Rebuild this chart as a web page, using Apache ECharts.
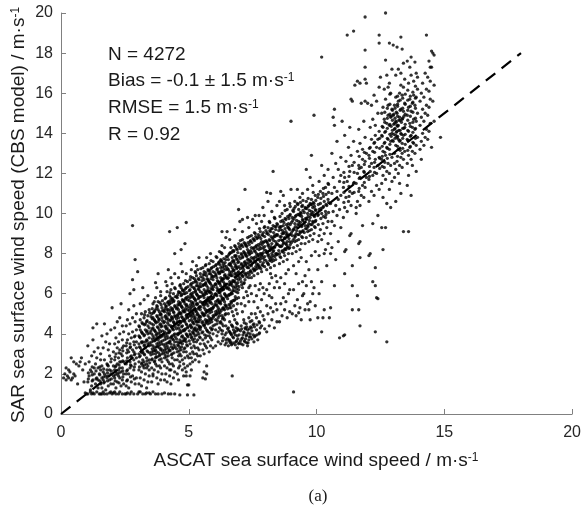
<!DOCTYPE html>
<html>
<head>
<meta charset="utf-8">
<script src="https://cdn.jsdelivr.net/npm/echarts@6/dist/echarts.min.js"></script>
<style>
  html, body { margin: 0; padding: 0; background: #fff; }
  #chart { width: 584px; height: 512px; }
</style>
</head>
<body>
<div id="chart"></div>
<script>
// [ASCAT, SAR] wind speed pairs (m/s), estimated from the figure, grouped by ASCAT range
const ptsFloor = [[1.05,1.0],[1.15,1.1],[1.2,1.0],[1.3,1.0],[1.4,1.1],[1.5,1.0],[1.55,1.0],[1.65,1.1],[1.7,1.0],[1.8,1.0],[1.9,1.05],[2.0,1.0],[2.1,1.1],[2.15,1.0],[2.25,1.0],[2.3,1.1],[2.4,1.0],[2.5,1.0],[2.6,1.05],[2.7,1.0],[2.75,1.1],[2.85,1.0],[3.0,1.0],[3.1,1.1],[3.2,1.0],[3.3,1.0],[3.35,1.05],[3.5,1.0],[3.6,1.1],[3.7,1.0],[3.8,1.0],[3.95,1.0],[4.05,1.05],[4.2,1.0],[4.3,1.0],[4.65,0.95],[4.95,0.95],[5.2,0.95],[1.25,1.05],[1.6,1.0],[1.95,1.1],[2.55,1.0],[3.45,1.05],[3.05,1.1],[2.05,1.05],[4.45,1.0],[0.95,1.05],[1.0,1.0]];

const ptsLow = [[0.1,1.8],[0.15,2.0],[0.2,1.7],[0.25,1.9],[0.3,1.8],[0.35,2.1],[0.4,1.7],[0.45,1.8],[0.5,2.0],[0.3,2.2],[0.2,2.3],[0.55,1.9],[0.6,2.5],[0.7,2.4],[0.75,2.6],[0.5,2.6],[0.85,2.2],[0.9,1.6],[0.65,1.5],[0.8,2.8],[0.95,2.5],[0.4,2.8],
[1.05,1.6],[1.1,1.9],[1.15,2.2],[1.2,1.4],[1.25,1.7],[1.3,2.0],[1.35,2.5],[1.4,1.8],[1.45,1.3],[1.1,2.6],[1.2,2.9],[1.3,3.1],[1.45,2.3],[1.05,3.4],[1.25,3.7],[1.4,2.8],[1.35,1.5],[1.15,1.2],[1.5,2.0],[1.25,4.3],[1.4,4.5],[1.45,3.3],[1.3,2.3],[1.2,2.1],[1.45,1.7],
[1.55,1.5],[1.6,1.8],[1.65,2.1],[1.7,1.6],[1.75,1.9],[1.8,2.2],[1.85,1.4],[1.9,1.7],[1.95,2.0],[1.6,2.4],[1.7,2.7],[1.8,2.5],[1.9,2.9],[1.55,3.0],[1.65,3.3],[1.75,3.6],[1.85,3.2],[1.95,2.6],[1.6,1.3],[1.7,2.0],[1.8,1.8],[1.9,2.2],[1.55,2.2],[1.85,1.9],[1.65,1.7],[1.75,1.2],[1.95,1.5],[1.9,3.5],[1.8,4.0],[1.6,3.9],[1.7,4.5],[2.0,5.3],[1.95,4.2],[1.55,2.7],[1.85,2.4],
[2.05,1.5],[2.1,1.8],[2.15,2.1],[2.2,1.6],[2.25,1.9],[2.3,2.3],[2.35,1.4],[2.4,1.7],[2.45,2.0],[2.05,2.4],[2.1,2.7],[2.15,3.0],[2.2,2.5],[2.25,2.8],[2.3,3.2],[2.35,2.6],[2.4,2.9],[2.45,3.4],[2.05,3.1],[2.1,3.5],[2.15,3.8],[2.2,3.3],[2.25,3.6],[2.3,4.0],[2.35,3.0],[2.4,3.7],[2.45,4.1],[2.1,4.3],[2.2,4.6],[2.3,4.8],[2.35,5.5],[2.4,4.4],[2.05,1.9],[2.2,2.0],[2.3,1.8],[2.4,2.3],[2.45,1.5],[2.15,1.3],[2.25,2.2],[2.35,2.1],[2.1,2.2],[2.3,2.6],[2.4,3.3],[2.15,2.4],[2.45,2.6],
[2.55,1.4],[2.6,1.7],[2.65,2.0],[2.7,2.3],[2.75,1.6],[2.8,1.9],[2.85,2.2],[2.9,1.5],[2.95,1.8],[2.55,2.5],[2.6,2.8],[2.65,3.1],[2.7,2.6],[2.75,2.9],[2.8,3.2],[2.85,2.7],[2.9,3.0],[2.95,3.3],[2.55,3.4],[2.6,3.7],[2.65,4.0],[2.7,3.5],[2.75,3.8],[2.8,4.1],[2.85,3.6],[2.9,3.9],[2.95,4.2],[2.55,4.4],[2.6,4.7],[2.7,4.5],[2.8,4.8],[2.9,4.6],[2.95,5.0],[2.65,5.2],[2.85,5.4],[2.7,6.0],[2.85,6.2],[2.8,6.7],[2.9,7.7],[2.8,9.4],[2.6,2.2],[2.75,2.4],[2.9,2.5],[2.55,2.0],[2.65,1.3],[2.95,2.8],[2.7,3.3],[2.85,3.1],[2.6,3.2],[2.95,3.6]];

const ptsMid = [[3.05,1.5],[3.1,1.8],[3.15,2.1],[3.2,2.4],[3.25,1.7],[3.3,2.0],[3.35,2.3],[3.4,1.6],[3.45,1.9],[3.05,2.6],[3.1,2.9],[3.15,3.2],[3.2,2.7],[3.25,3.0],[3.3,3.3],[3.35,2.8],[3.4,3.1],[3.45,3.4],[3.05,3.5],[3.1,3.8],[3.15,4.1],[3.2,3.6],[3.25,3.9],[3.3,4.2],[3.35,3.7],[3.4,4.0],[3.45,4.3],[3.05,4.4],[3.1,4.7],[3.15,5.0],[3.2,4.5],[3.25,4.8],[3.3,5.1],[3.35,4.6],[3.4,4.9],[3.45,5.2],[3.1,5.5],[3.25,5.7],[3.4,5.9],[3.0,7.1],[3.2,6.3],[3.05,2.2],[3.15,2.5],[3.25,2.3],[3.35,2.5],[3.45,2.2],[3.1,3.3],[3.2,3.1],[3.3,3.6],[3.4,3.5],[3.05,3.9],[3.15,3.6],[3.25,3.4],[3.35,4.1],[3.45,3.8],[3.1,4.2],[3.2,4.0],[3.3,4.5],[3.4,4.4],[3.15,1.4],[3.35,1.3],[3.45,2.7],[3.05,3.0],[3.25,2.6],[3.4,2.4],
[3.55,1.6],[3.6,1.9],[3.65,2.2],[3.7,2.5],[3.75,1.8],[3.8,2.1],[3.85,2.4],[3.9,1.7],[3.95,2.0],[3.55,2.7],[3.6,3.0],[3.65,3.3],[3.7,2.8],[3.75,3.1],[3.8,3.4],[3.85,2.9],[3.9,3.2],[3.95,3.5],[3.55,3.6],[3.6,3.9],[3.65,4.2],[3.7,3.7],[3.75,4.0],[3.8,4.3],[3.85,3.8],[3.9,4.1],[3.95,4.4],[3.55,4.5],[3.6,4.8],[3.65,5.1],[3.7,4.6],[3.75,4.9],[3.8,5.2],[3.85,4.7],[3.9,5.0],[3.95,5.3],[3.6,5.5],[3.7,5.8],[3.8,5.6],[3.9,5.9],[3.75,6.3],[3.7,6.55],[3.8,7.0],[3.55,2.3],[3.65,2.6],[3.75,2.4],[3.85,2.7],[3.95,2.6],[3.6,3.4],[3.7,3.2],[3.8,3.7],[3.9,3.6],[3.55,4.0],[3.65,3.8],[3.75,3.5],[3.85,4.2],[3.95,3.9],[3.6,4.3],[3.7,4.1],[3.8,4.6],[3.9,4.5],[3.55,5.0],[3.65,4.7],[3.75,5.4],[3.85,5.1],[3.95,4.8],[3.6,2.0],[3.8,1.5],[3.9,2.3],[3.55,3.1],[3.7,3.0],[3.85,3.3],[3.95,3.0],[3.65,5.6],[3.9,6.1],
[4.05,1.7],[4.1,2.0],[4.15,2.3],[4.2,2.6],[4.25,1.9],[4.3,2.2],[4.35,2.5],[4.4,1.8],[4.45,2.1],[4.05,2.8],[4.1,3.1],[4.15,3.4],[4.2,2.9],[4.25,3.2],[4.3,3.5],[4.35,3.0],[4.4,3.3],[4.45,3.6],[4.05,3.7],[4.1,4.0],[4.15,4.3],[4.2,3.8],[4.25,4.1],[4.3,4.4],[4.35,3.9],[4.4,4.2],[4.45,4.5],[4.05,4.6],[4.1,4.9],[4.15,5.2],[4.2,4.7],[4.25,5.0],[4.3,5.3],[4.35,4.8],[4.4,5.1],[4.45,5.4],[4.05,5.5],[4.1,5.8],[4.15,6.1],[4.2,5.6],[4.25,5.9],[4.3,6.2],[4.35,5.7],[4.4,6.0],[4.45,6.3],[4.1,6.6],[4.3,6.8],[4.2,7.2],[4.45,7.0],[4.25,9.1],[4.45,8.0],[4.05,2.4],[4.15,2.7],[4.25,2.5],[4.35,2.8],[4.45,2.7],[4.1,3.5],[4.2,3.3],[4.3,3.8],[4.4,3.7],[4.05,4.1],[4.15,3.9],[4.25,3.6],[4.35,4.3],[4.45,4.0],[4.1,4.4],[4.2,4.2],[4.3,4.7],[4.4,4.6],[4.05,5.1],[4.15,4.8],[4.25,5.5],[4.35,5.2],[4.45,4.9],[4.1,5.4],[4.2,5.2],[4.3,5.8],[4.4,5.6],[4.15,6.4],[4.35,6.5],[4.05,3.2],[4.25,2.2],[4.4,2.4],[4.3,1.5],[4.15,1.6],
[4.55,2.0],[4.6,2.3],[4.65,2.6],[4.7,2.9],[4.75,2.2],[4.8,2.5],[4.85,2.8],[4.9,2.1],[4.95,2.4],[4.55,3.1],[4.6,3.4],[4.65,3.7],[4.7,3.2],[4.75,3.5],[4.8,3.8],[4.85,3.3],[4.9,3.6],[4.95,3.9],[4.55,4.0],[4.6,4.3],[4.65,4.6],[4.7,4.1],[4.75,4.4],[4.8,4.7],[4.85,4.2],[4.9,4.5],[4.95,4.8],[4.55,4.9],[4.6,5.2],[4.65,5.5],[4.7,5.0],[4.75,5.3],[4.8,5.6],[4.85,5.1],[4.9,5.4],[4.95,5.7],[4.55,5.8],[4.6,6.1],[4.65,6.4],[4.7,5.9],[4.75,6.2],[4.8,6.5],[4.85,6.0],[4.9,6.3],[4.95,6.6],[4.6,6.8],[4.75,7.1],[4.9,7.0],[4.7,7.5],[4.55,9.3],[4.9,9.55],[4.85,8.5],[4.7,8.2],[4.55,3.6],[4.65,3.3],[4.75,3.9],[4.85,3.7],[4.95,3.4],[4.6,4.0],[4.7,4.6],[4.8,4.2],[4.9,4.0],[4.55,4.6],[4.65,4.2],[4.75,4.8],[4.85,4.6],[4.95,4.3],[4.6,4.8],[4.7,5.4],[4.8,5.1],[4.9,4.9],[4.55,5.3],[4.65,5.0],[4.75,5.7],[4.85,5.5],[4.95,5.2],[4.6,5.6],[4.7,6.3],[4.8,6.0],[4.9,5.8],[4.55,2.7],[4.65,2.4],[4.75,2.7],[4.85,2.3],[4.95,2.9],[4.6,1.7],[4.8,1.9],[4.9,1.9],[4.95,1.45],[5.0,2.8],[4.65,3.0],[4.8,3.1],[4.9,3.1],[4.7,3.6],[4.6,2.9]];

const ptsCore = [[5.05,2.5],[5.1,2.8],[5.15,3.1],[5.2,3.4],[5.25,2.7],[5.3,3.0],[5.35,3.3],[5.4,2.6],[5.45,2.9],[5.05,3.5],[5.1,3.8],[5.15,4.1],[5.2,3.6],[5.25,3.9],[5.3,4.2],[5.35,3.7],[5.4,4.0],[5.45,4.3],[5.05,4.4],[5.1,4.7],[5.15,5.0],[5.2,4.5],[5.25,4.8],[5.3,5.1],[5.35,4.6],[5.4,4.9],[5.45,5.2],[5.05,5.3],[5.1,5.6],[5.15,5.9],[5.2,5.4],[5.25,5.7],[5.3,6.0],[5.35,5.5],[5.4,5.8],[5.45,6.1],[5.05,6.2],[5.1,6.5],[5.15,6.8],[5.2,6.3],[5.25,6.6],[5.3,6.9],[5.35,6.4],[5.4,6.7],[5.45,7.0],[5.15,7.6],[5.3,7.4],[5.4,7.8],[5.05,4.0],[5.15,3.7],[5.25,4.3],[5.35,4.1],[5.45,3.8],[5.1,4.3],[5.2,4.0],[5.3,4.6],[5.4,4.4],[5.05,4.9],[5.15,4.6],[5.25,5.2],[5.35,5.0],[5.45,4.7],[5.1,5.2],[5.2,4.9],[5.3,5.5],[5.4,5.3],[5.05,5.8],[5.15,5.5],[5.25,6.1],[5.35,5.9],[5.45,5.6],[5.1,6.0],[5.2,5.8],[5.3,6.4],[5.4,6.2],[5.05,3.0],[5.15,2.6],[5.25,3.3],[5.35,2.9],[5.45,3.5],[5.1,3.3],[5.3,3.6],[5.2,3.0],[5.4,3.2],[5.05,6.7],[5.25,7.1],[5.45,6.5],[5.1,7.2],[5.0,1.45],[5.1,2.2],[5.05,1.9],[5.35,7.2],[5.45,4.2],[5.2,4.2],[5.4,4.6],
[5.55,1.8],[5.6,2.1],[5.7,2.4],[5.65,1.75],[5.7,2.0],[5.55,3.2],[5.6,3.5],[5.65,3.8],[5.7,3.3],[5.75,3.6],[5.8,3.9],[5.85,3.4],[5.9,3.7],[5.95,4.0],[5.55,4.1],[5.6,4.4],[5.65,4.7],[5.7,4.2],[5.75,4.5],[5.8,4.8],[5.85,4.3],[5.9,4.6],[5.95,4.9],[5.55,5.0],[5.6,5.3],[5.65,5.6],[5.7,5.1],[5.75,5.4],[5.8,5.7],[5.85,5.2],[5.9,5.5],[5.95,5.8],[5.55,5.9],[5.6,6.2],[5.65,6.5],[5.7,6.0],[5.75,6.3],[5.8,6.6],[5.85,6.1],[5.9,6.4],[5.95,6.7],[5.55,6.8],[5.6,7.1],[5.65,7.4],[5.7,6.9],[5.75,7.2],[5.8,7.5],[5.85,7.0],[5.9,7.3],[5.95,7.6],[5.7,7.8],[5.85,8.0],[5.6,3.0],[5.8,3.1],[5.95,3.3],[5.55,4.6],[5.65,4.3],[5.75,4.9],[5.85,4.7],[5.95,4.4],[5.6,4.9],[5.7,4.6],[5.8,5.2],[5.9,5.1],[5.55,5.5],[5.65,5.2],[5.75,5.8],[5.85,5.6],[5.95,5.3],[5.6,5.8],[5.7,5.5],[5.8,6.1],[5.9,6.0],[5.55,6.4],[5.65,6.1],[5.75,6.7],[5.85,6.5],[5.95,6.2],[5.6,6.7],[5.7,6.4],[5.8,7.0],[5.9,6.9],[5.55,3.7],[5.7,3.9],[5.9,4.2],[5.65,3.4],[5.75,4.1],[5.85,3.8],[5.55,7.3],[5.95,7.1],
[6.05,3.4],[6.15,3.6],[6.25,3.5],[6.35,3.8],[6.45,3.7],[6.1,3.9],[6.3,4.0],[6.05,4.2],[6.1,4.5],[6.15,4.8],[6.2,4.3],[6.25,4.6],[6.3,4.9],[6.35,4.4],[6.4,4.7],[6.45,5.0],[6.05,5.1],[6.1,5.4],[6.15,5.7],[6.2,5.2],[6.25,5.5],[6.3,5.8],[6.35,5.3],[6.4,5.6],[6.45,5.9],[6.05,6.0],[6.1,6.3],[6.15,6.6],[6.2,6.1],[6.25,6.4],[6.3,6.7],[6.35,6.2],[6.4,6.5],[6.45,6.8],[6.05,6.9],[6.1,7.2],[6.15,7.5],[6.2,7.0],[6.25,7.3],[6.3,7.6],[6.35,7.1],[6.4,7.4],[6.45,7.7],[6.1,7.8],[6.2,8.1],[6.3,8.0],[6.4,8.3],[6.45,8.8],[6.3,9.1],[6.5,9.1],[6.05,5.6],[6.15,5.3],[6.25,5.9],[6.35,5.7],[6.45,5.4],[6.1,5.9],[6.2,5.6],[6.3,6.2],[6.4,6.0],[6.05,6.5],[6.15,6.2],[6.25,6.8],[6.35,6.6],[6.45,6.3],[6.1,6.8],[6.2,6.5],[6.3,7.1],[6.4,6.9],[6.05,7.4],[6.15,7.1],[6.25,7.7],[6.35,7.5],[6.45,7.2],[6.05,4.7],[6.2,4.9],[6.3,4.5],[6.4,5.2],[6.15,4.1],[6.45,4.4],[6.25,4.2],[6.1,5.0],[6.35,4.8],[6.2,7.6],[6.3,8.4],
[6.55,3.4],[6.6,3.7],[6.65,4.0],[6.7,3.5],[6.75,3.8],[6.8,4.1],[6.85,3.6],[6.9,3.9],[6.95,4.2],[6.55,4.3],[6.6,4.6],[6.7,4.4],[6.8,4.7],[6.9,4.5],[6.95,3.5],[6.65,3.6],[6.85,4.3],[6.75,4.2],[6.6,4.1],[6.9,3.3],
[6.55,5.0],[6.6,5.3],[6.65,5.6],[6.7,5.1],[6.75,5.4],[6.8,5.7],[6.85,5.2],[6.9,5.5],[6.95,5.8],[6.55,5.9],[6.6,6.2],[6.65,6.5],[6.7,6.0],[6.75,6.3],[6.8,6.6],[6.85,6.1],[6.9,6.4],[6.95,6.7],[6.55,6.8],[6.6,7.1],[6.65,7.4],[6.7,6.9],[6.75,7.2],[6.8,7.5],[6.85,7.0],[6.9,7.3],[6.95,7.6],[6.55,7.7],[6.6,8.0],[6.65,8.3],[6.7,7.8],[6.75,8.1],[6.8,8.4],[6.85,7.9],[6.9,8.2],[6.95,8.5],[6.6,8.7],[6.8,9.2],[6.95,10.2],[6.55,6.3],[6.65,6.0],[6.75,6.6],[6.85,6.5],[6.95,6.2],[6.6,6.6],[6.7,6.4],[6.8,7.0],[6.9,6.9],[6.55,7.2],[6.65,6.9],[6.75,7.6],[6.85,7.4],[6.95,7.1],[6.6,7.5],[6.7,7.3],[6.8,7.9],[6.9,7.7],[6.7,1.9],[6.65,5.3],[6.9,5.0],[6.75,4.9]];

const ptsUpper = [[7.05,3.5],[7.1,3.8],[7.15,4.1],[7.2,3.6],[7.25,3.9],[7.3,4.2],[7.35,3.7],[7.4,4.0],[7.45,4.3],[7.05,4.4],[7.15,4.7],[7.25,4.5],[7.35,4.8],[7.45,5.0],[7.1,5.1],[7.3,3.4],[7.2,4.3],[7.4,4.6],
[7.05,5.5],[7.15,5.8],[7.25,6.1],[7.35,5.6],[7.45,6.0],[7.1,6.3],[7.3,5.9],[7.2,5.4],[7.4,6.4],
[7.05,6.6],[7.1,6.9],[7.15,7.2],[7.2,6.7],[7.25,7.0],[7.3,7.3],[7.35,6.8],[7.4,7.1],[7.45,7.4],[7.05,7.5],[7.1,7.8],[7.15,8.1],[7.2,7.6],[7.25,7.9],[7.3,8.2],[7.35,7.7],[7.4,8.0],[7.45,8.3],[7.05,8.4],[7.1,8.7],[7.2,8.5],[7.3,8.8],[7.4,8.6],[7.45,8.9],[7.15,7.4],[7.25,7.5],[7.35,7.3],[7.45,7.8],[7.1,7.3],[7.2,8.0],[7.3,7.7],[7.4,7.6],[7.05,8.0],[7.25,8.4],[7.35,8.1],[7.1,9.1],[7.0,9.6],[7.1,9.7],[7.35,9.3],[7.2,11.2],[7.15,6.5],[7.35,6.3],[7.45,6.8],[7.3,9.8],[7.5,9.7],
[7.55,3.6],[7.6,3.9],[7.65,4.2],[7.7,3.7],[7.75,4.0],[7.8,4.3],[7.55,4.5],[7.65,4.8],[7.75,4.6],[7.85,4.4],[7.95,4.7],[7.6,5.0],[7.8,5.1],[7.9,4.9],[7.7,5.3],
[7.55,5.6],[7.65,5.9],[7.75,6.2],[7.85,5.7],[7.95,6.0],[7.6,6.4],[7.8,6.5],[7.9,6.3],
[7.55,6.9],[7.6,7.2],[7.65,7.5],[7.7,7.0],[7.75,7.3],[7.8,7.6],[7.85,7.1],[7.9,7.4],[7.95,7.7],[7.55,7.8],[7.6,8.1],[7.65,8.4],[7.7,7.9],[7.75,8.2],[7.8,8.5],[7.85,8.0],[7.9,8.3],[7.95,8.6],[7.55,8.7],[7.6,9.0],[7.7,8.8],[7.8,9.1],[7.9,8.9],[7.95,9.3],[7.6,7.6],[7.7,7.4],[7.8,8.0],[7.9,7.8],[7.55,8.3],[7.65,8.0],[7.75,7.7],[7.85,8.6],[7.95,8.2],[7.6,9.9],[7.75,9.9],[7.95,9.9],[7.65,9.5],[7.85,9.6],[8.05,11.05],[7.9,10.3],[7.55,7.2],[7.85,7.9],
[8.05,4.1],[8.15,4.4],[8.25,4.7],[8.35,4.3],[8.45,4.6],[8.1,5.0],[8.2,5.3],[8.3,5.1],[8.4,5.5],[8.05,5.4],[8.25,5.8],[8.45,5.2],[8.15,5.9],
[8.05,6.2],[8.15,6.5],[8.25,6.8],[8.35,6.3],[8.45,6.6],[8.2,7.0],[8.4,6.9],
[8.05,7.2],[8.1,7.5],[8.15,7.8],[8.2,7.3],[8.25,7.6],[8.3,7.9],[8.35,7.4],[8.4,7.7],[8.45,8.0],[8.05,8.1],[8.1,8.4],[8.15,8.7],[8.2,8.2],[8.25,8.5],[8.3,8.8],[8.35,8.3],[8.4,8.6],[8.45,8.9],[8.05,9.0],[8.1,9.3],[8.2,9.1],[8.3,9.4],[8.4,9.2],[8.45,9.5],[8.1,7.9],[8.2,7.7],[8.3,8.1],[8.4,8.0],[8.05,8.6],[8.15,8.3],[8.25,8.0],[8.35,8.9],[8.45,8.5],[8.15,9.6],[8.35,9.8],[8.25,10.1],[8.3,12.1],[8.1,10.6],[8.45,10.4],[8.2,11.0],
[8.55,4.6],[8.65,4.9],[8.75,5.2],[8.85,4.8],[8.95,5.1],[8.6,5.5],[8.7,5.8],[8.8,5.6],[8.9,6.0],[8.55,6.3],[8.75,6.5],[8.95,6.2],
[8.6,6.8],[8.8,7.0],[8.9,7.2],
[8.55,7.5],[8.6,7.8],[8.65,8.1],[8.7,7.6],[8.75,7.9],[8.8,8.2],[8.85,7.7],[8.9,8.0],[8.95,8.3],[8.55,8.4],[8.6,8.7],[8.65,9.0],[8.7,8.5],[8.75,8.8],[8.8,9.1],[8.85,8.6],[8.9,8.9],[8.95,9.2],[8.55,9.3],[8.6,9.6],[8.7,9.4],[8.8,9.7],[8.9,9.5],[8.95,9.9],[8.65,8.4],[8.75,8.2],[8.85,9.0],[8.95,8.6],[8.6,9.2],[8.7,9.0],[8.8,8.5],[8.9,9.3],[8.65,10.0],[8.85,10.2],[8.55,10.6],[8.7,10.9],[8.6,11.1],[8.95,10.5],[9.0,11.2],[8.75,10.4],[8.55,8.0],[8.85,8.3],
[9.05,5.0],[9.15,5.4],[9.25,5.7],[9.35,5.3],[9.45,5.9],[9.1,6.2],[9.3,6.5],[9.45,6.6],[9.4,4.7],[9.2,4.9],[9.5,6.0],[9.3,5.05],
[9.05,8.0],[9.1,8.3],[9.15,8.6],[9.2,8.1],[9.25,8.4],[9.3,8.7],[9.35,8.2],[9.4,8.5],[9.45,8.8],[9.05,8.9],[9.1,9.2],[9.15,9.5],[9.2,9.0],[9.25,9.3],[9.3,9.6],[9.35,9.1],[9.4,9.4],[9.45,9.7],[9.05,9.8],[9.1,10.1],[9.2,9.9],[9.3,10.2],[9.4,10.0],[9.45,10.4],[9.15,10.6],[9.35,10.8],[9.25,11.2],[9.45,11.0],[9.1,7.4],[9.3,7.6],[9.2,7.0],[9.4,7.8],[9.1,1.1],[9.0,14.6],[9.15,8.9],[9.35,9.9],[9.45,9.1],[9.25,10.5],
[9.55,5.2],[9.65,5.5],[9.75,5.6],[9.85,6.0],[9.7,5.2],[9.8,6.6],[9.6,6.4],[9.9,6.3],[9.75,4.7],[9.95,5.4],
[9.55,8.5],[9.6,8.8],[9.65,9.1],[9.7,8.6],[9.75,8.9],[9.8,9.2],[9.85,8.7],[9.9,9.0],[9.95,9.3],[9.55,9.4],[9.6,9.7],[9.65,10.0],[9.7,9.5],[9.75,9.8],[9.8,10.1],[9.85,9.6],[9.9,9.9],[9.95,10.2],[9.55,10.3],[9.6,10.6],[9.7,10.4],[9.8,10.7],[9.9,10.5],[9.95,10.9],[9.65,11.2],[9.85,11.4],[9.75,11.8],[9.6,12.2],[9.8,12.9],[9.9,14.9],[9.6,7.6],[9.8,7.9],[9.7,7.2],[9.95,8.1],[9.55,6.9],[9.65,9.4],[9.85,10.3],[9.95,9.6],[9.75,10.5]];

const ptsHigh = [[10.05,4.8],[10.2,4.1],[10.25,4.8],[10.1,6.0],[10.3,5.2],[10.2,6.6],[10.4,7.4],
[10.05,8.6],[10.1,8.9],[10.15,9.2],[10.2,8.7],[10.25,9.5],[10.3,9.0],[10.35,9.8],[10.4,9.3],[10.45,9.6],[10.05,9.9],[10.1,10.2],[10.15,10.5],[10.2,10.0],[10.25,10.3],[10.3,10.6],[10.35,10.1],[10.4,10.4],[10.45,10.7],[10.05,10.8],[10.15,11.1],[10.25,11.0],[10.35,11.3],[10.45,11.5],[10.1,11.6],[10.3,11.9],[10.2,12.4],[10.45,12.2],[10.2,17.8],[10.1,7.9],[10.35,8.2],[10.45,8.5],[10.05,7.2],[10.3,8.0],
[10.5,4.8],[10.9,3.8],[10.7,6.4],[10.55,5.3],
[10.55,9.0],[10.6,9.6],[10.65,10.1],[10.7,9.4],[10.75,10.4],[10.8,9.9],[10.85,10.7],[10.9,10.2],[10.95,10.9],[10.55,10.5],[10.6,11.0],[10.7,11.3],[10.8,11.1],[10.9,11.6],[10.95,11.9],[10.65,11.8],[10.85,12.2],[10.75,12.5],[10.95,12.8],[10.6,13.0],[10.8,13.6],[10.7,14.4],[10.65,14.8],[10.7,15.2],[11.0,14.6],[10.6,8.3],[10.85,8.6],[10.75,7.7],[10.95,9.3],[10.55,8.0],
[11.05,3.9],[11.1,3.95],[11.4,5.2],[11.4,6.4],[11.1,7.0],[11.4,7.4],[11.1,8.1],[11.15,8.2],[11.3,8.9],[11.35,9.0],
[11.05,9.8],[11.1,10.3],[11.15,10.8],[11.2,10.1],[11.25,10.6],[11.3,11.1],[11.35,10.4],[11.4,11.0],[11.45,11.5],[11.05,11.3],[11.1,11.8],[11.2,11.6],[11.3,12.1],[11.4,12.4],[11.15,12.6],[11.35,12.9],[11.25,13.3],[11.45,13.6],[11.1,13.9],[11.3,14.3],[11.4,15.6],[11.2,18.9],[11.45,19.1],[11.5,16.4],[11.35,15.7],
[11.6,5.9],[11.7,4.4],[11.65,5.2],[11.7,7.8],[11.7,8.6],[11.65,8.5],[11.8,9.4],
[11.55,10.0],[11.6,10.6],[11.65,11.1],[11.7,10.4],[11.75,10.9],[11.8,11.4],[11.85,10.8],[11.9,11.3],[11.95,11.8],[11.55,11.5],[11.6,12.0],[11.65,12.4],[11.7,11.8],[11.75,12.3],[11.8,12.7],[11.85,12.1],[11.9,12.6],[11.95,13.0],[11.6,13.1],[11.7,13.5],[11.8,13.2],[11.9,13.8],[11.65,14.2],[11.85,14.6],[11.75,15.5],[11.9,15.6],[11.6,16.6],[11.7,16.5],[11.9,16.7],[11.95,16.5],[11.9,17.3],[11.9,18.15],[11.9,19.8],[11.55,10.3],
[12.1,8.0],[12.05,7.9],[12.3,7.3],[12.2,6.6],[12.3,6.4],[12.35,5.8],[12.4,5.75],[12.3,4.1],
[12.05,10.6],[12.15,11.1],[12.25,10.9],[12.35,11.4],[12.45,11.2],[12.05,11.7],[12.1,12.1],[12.15,12.5],[12.2,11.9],[12.25,12.3],[12.3,12.7],[12.35,12.0],[12.4,12.4],[12.45,12.8],[12.05,12.9],[12.1,13.3],[12.15,13.7],[12.2,13.1],[12.25,13.5],[12.3,13.9],[12.35,13.3],[12.4,13.7],[12.45,14.1],[12.1,14.3],[12.2,14.7],[12.3,14.4],[12.4,15.0],[12.15,15.4],[12.35,15.6],[12.25,15.9],[12.45,16.3],[12.5,16.8],[12.45,18.9],[12.45,18.5],[12.4,9.9],[12.2,9.5],[12.0,15.5],
[12.55,9.3],[12.7,9.3],[12.75,3.6],[12.6,8.2],[12.9,10.3],
[12.55,11.5],[12.6,11.9],[12.65,12.3],[12.7,11.7],[12.75,12.1],[12.8,12.5],[12.85,12.0],[12.9,12.4],[12.95,12.8],[12.55,12.7],[12.6,13.1],[12.65,13.5],[12.7,12.9],[12.75,13.3],[12.8,13.7],[12.85,13.2],[12.9,13.6],[12.95,14.0],[12.55,13.9],[12.6,14.3],[12.65,14.7],[12.7,14.1],[12.75,14.5],[12.8,14.9],[12.85,14.4],[12.9,14.8],[12.95,15.2],[12.6,15.3],[12.7,15.7],[12.8,15.4],[12.9,16.0],[12.65,16.2],[12.85,16.5],[12.75,16.9],[12.95,17.2],[12.7,17.65],[12.7,20.0],[12.85,18.5],[12.6,10.8],[12.85,11.2],[12.75,10.5],[12.55,15.0],[12.95,11.6],[12.8,16.3],
[13.4,9.1],[13.1,10.6],[13.3,11.0],
[13.05,11.8],[13.1,12.2],[13.15,12.6],[13.2,12.0],[13.25,12.4],[13.3,12.8],[13.35,12.3],[13.4,12.7],[13.45,13.1],[13.05,13.0],[13.1,13.4],[13.15,13.8],[13.2,13.2],[13.25,13.6],[13.3,14.0],[13.35,13.5],[13.4,13.9],[13.45,14.3],[13.05,14.2],[13.1,14.6],[13.15,15.0],[13.2,14.4],[13.25,14.8],[13.3,15.2],[13.35,14.7],[13.4,15.1],[13.45,15.5],[13.05,15.4],[13.1,15.8],[13.15,14.1],[13.2,15.6],[13.25,16.0],[13.3,16.4],[13.35,15.9],[13.4,16.3],[13.45,16.7],[13.1,16.9],[13.2,17.2],[13.3,17.0],[13.4,17.5],[13.0,18.4],[13.15,18.3],[13.35,18.2],[13.3,18.8],[13.05,14.5],[13.1,13.9],[13.15,14.4],[13.0,13.6],[13.0,14.9],[13.2,13.7],[13.05,12.5],[13.35,13.0],[13.25,11.5],
[13.6,9.1],[13.7,10.9],[13.55,11.4],
[13.55,12.5],[13.6,12.9],[13.65,13.3],[13.7,12.7],[13.75,13.1],[13.8,13.5],[13.85,13.0],[13.9,13.4],[13.95,13.8],[13.55,13.7],[13.6,14.1],[13.65,14.5],[13.7,13.9],[13.75,14.3],[13.8,14.7],[13.85,14.2],[13.9,14.6],[13.95,15.0],[13.55,14.9],[13.6,15.3],[13.65,15.7],[13.7,15.1],[13.75,15.5],[13.8,15.9],[13.85,15.4],[13.9,15.8],[13.95,16.2],[13.6,16.5],[13.7,16.9],[13.8,16.6],[13.9,17.0],[13.65,17.3],[13.85,17.55],[13.7,17.8],[13.55,17.6],[13.95,16.8],[13.75,12.4],[13.9,12.1],[13.6,11.9],
[14.05,13.2],[14.1,13.6],[14.15,14.0],[14.2,13.4],[14.25,13.8],[14.3,14.2],[14.35,13.7],[14.4,14.1],[14.45,14.5],[14.05,14.4],[14.1,14.8],[14.15,15.2],[14.2,14.6],[14.25,15.0],[14.3,15.4],[14.35,14.9],[14.4,15.3],[14.45,15.7],[14.05,15.6],[14.1,16.0],[14.2,15.8],[14.3,16.2],[14.4,16.1],[14.45,16.6],[14.15,16.5],[14.35,16.8],[14.25,17.0],[14.4,17.6],[14.45,17.3],[14.5,17.3],[14.55,18.0],[14.6,17.9],[14.5,18.1],[14.3,18.9],[14.5,13.3],[14.85,13.8],[14.6,14.6],[14.55,15.6],[14.6,16.4],[14.1,12.7]];

// densest parts of the cloud: [ASCAT, [SAR values...]]
const denseColumns = [
  [3.52,[2.95,3.45,4.15,4.85]],[3.62,[3.15,3.65,4.45,5.05]],[3.72,[2.85,3.35,3.95,4.55,5.25]],[3.82,[3.05,3.55,4.05,4.75]],
  [3.92,[2.75,3.25,3.85,4.35,4.95,5.45]],[4.02,[3.05,3.45,3.95,4.55,5.15]],[4.12,[2.85,3.25,3.75,4.25,4.75,5.35]],
  [4.22,[3.15,3.55,4.05,4.45,4.95,5.45]],[4.32,[2.95,3.35,3.85,4.35,4.85,5.55]],[4.42,[3.05,3.45,3.95,4.55,5.05,5.65]],
  [4.52,[3.25,3.75,4.25,4.75,5.25,5.85]],[4.62,[3.15,3.55,4.05,4.45,5.05,5.45,6.05]],[4.72,[3.35,3.85,4.35,4.85,5.35,5.95]],
  [4.82,[3.25,3.65,4.15,4.65,5.15,5.65,6.15]],[4.92,[3.45,3.95,4.45,4.95,5.45,6.05]],
  [5.02,[3.65,4.15,4.65,5.15,5.65,6.15]],[5.12,[3.85,4.35,4.85,5.35,5.85,6.35]],[5.22,[3.75,4.25,4.75,5.25,5.75,6.25,6.75]],
  [5.32,[3.95,4.45,4.95,5.45,5.95,6.55]],[5.42,[3.85,4.35,4.85,5.35,5.85,6.35]],[5.52,[4.05,4.55,5.05,5.55,6.05,6.65]],
  [5.62,[3.95,4.45,4.95,5.45,5.95,6.45,6.95]],[5.72,[4.15,4.65,5.15,5.65,6.15,6.75]],[5.82,[4.05,4.55,5.05,5.55,6.05,6.55,7.15]],
  [5.92,[4.25,4.75,5.25,5.75,6.25,6.85]],[6.02,[4.45,4.95,5.45,5.95,6.45,7.05]],[6.12,[4.65,5.15,5.65,6.15,6.65,7.25]],
  [6.22,[4.55,5.05,5.55,6.05,6.55,7.05,7.45]],[6.32,[3.65,4.15,4.75,5.25,5.75,6.25,6.75,7.35]],[6.42,[3.45,3.95,4.95,5.45,5.95,6.45,6.95,7.55]],
  [6.52,[3.75,4.25,5.25,5.75,6.25,6.75,7.25,7.85]],[6.62,[3.55,4.05,5.45,5.95,6.45,6.95,7.45,8.05]],[6.72,[3.85,4.35,5.65,6.15,6.65,7.15,7.65,8.15]],
  [6.82,[3.45,3.95,5.85,6.35,6.85,7.35,7.85,8.35]],[6.92,[3.75,4.25,6.05,6.55,7.05,7.55,8.05]],[7.02,[3.65,4.15,6.75,7.25,7.75,8.25,8.65]],
  [7.12,[3.45,3.95,6.85,7.35,7.85,8.35]],[7.22,[3.75,4.25,6.95,7.45,7.95,8.45]],[7.32,[3.55,4.05,7.05,7.55,8.05,8.55]],
  [7.42,[3.85,4.35,7.15,7.65,8.15,8.65]],[7.52,[3.95,4.45,7.25,7.75,8.25,8.75]],[7.62,[7.35,7.85,8.35,8.85]],
  [7.72,[7.45,7.95,8.45,8.95]],[7.82,[7.25,7.75,8.25,8.75]],[7.92,[7.55,8.05,8.55,9.05]],[8.02,[7.65,8.15,8.65,9.15]],
  [8.12,[7.45,7.95,8.45,8.95]],[8.22,[7.85,8.35,8.85,9.25]],[8.32,[7.65,8.15,8.65,9.05]],[8.42,[7.95,8.45,8.95,9.35]],
  [8.52,[8.15,8.65,9.15]],[8.62,[8.35,8.85,9.35]],[8.72,[8.05,8.55,9.05,9.55]],[8.82,[8.45,8.95,9.45]],
  [8.92,[8.25,8.75,9.25,9.75]],[9.02,[8.55,9.05,9.55]],[9.12,[8.75,9.25,9.75,10.25]],[9.22,[8.65,9.15,9.65]],
  [9.32,[8.95,9.45,9.95]],[9.42,[8.85,9.35,9.85,10.35]],[9.52,[9.05,9.55,10.05]],[9.62,[9.25,9.75,10.25]],
  [9.72,[9.15,9.65,10.15]],[9.82,[9.45,9.95,10.45]],[9.92,[9.35,9.85,10.35]],
  [12.92,[13.85,14.35,14.85]],[12.97,[13.65,14.15,14.65,15.15]],[13.02,[13.95,14.45,14.95]],[13.07,[13.75,14.25,14.75,15.25]],
  [13.12,[14.05,14.55,15.05]],[13.17,[13.85,14.35,15.35]],[13.22,[14.15,14.65]],[13.32,[13.95,14.55]],[13.42,[14.25,14.85]]
];

// second pass over the darkest patches (low cluster, core, 1:1 band, top cluster)
const denseColumnsB = [
  [1.07,[1.75,2.05]],[1.22,[1.65,1.95,2.35]],[1.37,[1.75,2.15]],[1.52,[1.65,1.95,2.35]],[1.67,[1.55,1.85,2.25]],
  [1.82,[1.65,2.05,2.45]],[1.97,[1.75,2.15,2.75]],[2.12,[1.65,1.95,2.35,2.85]],[2.27,[1.55,2.05,2.45,3.05]],
  [2.42,[1.85,2.15,2.65,3.15]],[2.57,[1.65,2.15,2.65,3.05,3.55]],[2.72,[1.85,2.45,2.85,3.35]],[2.87,[1.75,2.35,2.95,3.45,3.85]],
  [3.07,[2.35,2.85,3.35,3.85,4.35]],[3.17,[2.55,3.05,3.55,4.05,4.55]],[3.27,[2.45,2.95,3.45,3.95,4.45,4.95]],
  [3.37,[2.65,3.15,3.65,4.15,4.65]],[3.47,[2.55,3.05,3.55,4.05,4.55,5.05]],[3.57,[2.75,3.25,3.75,4.25,4.75,5.25]],
  [3.67,[2.65,3.15,3.65,4.15,4.65,5.15]],[3.77,[2.85,3.35,3.85,4.35,4.85,5.35]],[3.87,[2.95,3.45,3.95,4.45,4.95,5.55]],
  [3.97,[3.15,3.65,4.15,4.65,5.15,5.65]],[4.07,[2.95,3.35,3.85,4.35,4.85,5.25,5.75]],[4.17,[3.05,3.55,4.05,4.55,5.05,5.55]],
  [4.27,[3.15,3.65,4.15,4.65,5.15,5.65,6.05]],[4.37,[3.25,3.75,4.25,4.75,5.25,5.75]],[4.47,[3.35,3.85,4.35,4.85,5.35,5.85,6.25]],
  [4.57,[3.45,3.95,4.45,4.95,5.45,5.95]],[4.67,[3.55,4.05,4.55,5.05,5.55,6.05,6.45]],[4.77,[3.65,4.15,4.65,5.15,5.65,6.15]],
  [4.87,[3.75,4.25,4.75,5.25,5.75,6.25,6.65]],[4.97,[3.85,4.35,4.85,5.35,5.85,6.35]],[5.07,[3.95,4.45,4.95,5.45,5.95,6.45,6.85]],
  [5.17,[4.05,4.55,5.05,5.55,6.05,6.55]],[5.27,[4.15,4.65,5.15,5.65,6.15,6.65,7.05]],[5.37,[4.25,4.75,5.25,5.75,6.25,6.75]],
  [5.47,[4.35,4.85,5.35,5.85,6.35,6.85,7.25]],[5.57,[4.45,4.95,5.45,5.95,6.45,6.95]],[5.67,[4.55,5.05,5.55,6.05,6.55,7.05,7.45]],
  [5.77,[4.65,5.15,5.65,6.15,6.65,7.15]],[5.87,[4.75,5.25,5.75,6.25,6.75,7.25,7.65]],[5.97,[4.85,5.35,5.85,6.35,6.85,7.35]],
  [6.07,[4.95,5.45,5.95,6.45,6.95,7.45,7.85]],[6.17,[5.05,5.55,6.05,6.55,7.05,7.55]],[6.27,[5.15,5.65,6.15,6.65,7.15,7.65,8.05]],
  [6.37,[5.25,5.75,6.25,6.75,7.25,7.75]],[6.47,[3.55,4.05,5.35,5.85,6.35,6.85,7.35,7.85]],[6.57,[3.65,4.15,5.45,5.95,6.45,6.95,7.45,7.95]],
  [6.67,[3.45,3.95,4.45,5.55,6.05,6.55,7.05,7.55,8.05]],[6.77,[3.55,4.05,5.65,6.15,6.65,7.15,7.65,8.15]],
  [6.87,[3.65,4.15,4.55,5.75,6.25,6.75,7.25,7.75,8.25]],[6.97,[3.55,3.95,6.35,6.85,7.35,7.85,8.35]],
  [7.07,[3.75,4.25,6.45,6.95,7.45,7.95,8.45]],[7.17,[3.65,4.05,4.55,6.55,7.05,7.55,8.05,8.55]],[7.27,[3.55,3.95,4.35,6.85,7.35,7.85,8.35]],
  [7.37,[3.85,4.25,6.95,7.45,7.95,8.45,8.85]],[7.47,[3.75,4.15,4.65,7.05,7.55,8.05,8.55]],[7.57,[3.85,4.35,7.15,7.65,8.15,8.65,9.05]],
  [7.67,[3.95,4.45,7.25,7.75,8.25,8.75]],[7.77,[4.05,4.55,7.35,7.85,8.35,8.85,9.25]],[7.87,[7.45,7.95,8.45,8.95]],
  [7.97,[4.25,7.35,7.85,8.35,8.85,9.35]],[8.07,[7.55,8.05,8.55,9.05]],[8.17,[7.65,8.15,8.65,9.15,9.55]],
  [8.27,[7.75,8.25,8.75,9.25]],[8.37,[7.85,8.35,8.85,9.35,9.75]],[8.47,[7.95,8.45,8.95,9.45]],
  [8.57,[7.85,8.35,8.85,9.35,9.85]],[8.67,[8.15,8.65,9.15,9.65]],[8.77,[8.25,8.75,9.25,9.75,10.15]],
  [8.87,[8.35,8.85,9.35,9.85]],[8.97,[8.45,8.95,9.45,9.95,10.35]],[9.07,[8.65,9.15,9.65,10.15]],
  [9.17,[8.85,9.35,9.85,10.35]],[9.27,[8.95,9.45,9.95,10.45]],[9.37,[9.05,9.55,10.05,10.55]],
  [9.47,[9.15,9.65,10.15,10.65]],[9.57,[9.25,9.75,10.25]],[9.67,[9.35,9.85,10.35,10.75]],
  [9.77,[9.45,9.95,10.45]],[9.87,[9.55,10.05,10.55,11.05]],[9.97,[9.65,10.15,10.65]],
  [10.07,[9.45,9.95,10.45,10.95]],[10.17,[9.75,10.25,10.75]],[10.27,[9.85,10.35,10.85,11.25]],
  [10.37,[9.95,10.45,10.95]],[10.47,[10.05,10.55,11.05,11.45]],
  [11.07,[10.55,11.05,11.55,12.05]],[11.27,[10.85,11.35,11.85,12.35]],[11.47,[11.05,11.55,12.05,12.55]],
  [11.67,[11.25,11.75,12.25,12.85]],[11.87,[11.55,12.05,12.45,13.05]],[12.07,[11.85,12.35,12.75,13.25]],
  [12.27,[12.05,12.55,13.05,13.55]],[12.47,[12.25,12.75,13.25,13.75]],
  [12.57,[12.35,12.85,13.35,13.85,14.35]],[12.67,[12.55,13.05,13.55,14.05,14.55,15.05]],[12.77,[12.75,13.25,13.75,14.25,14.75,15.25]],
  [12.87,[12.95,13.45,13.95,14.45,14.95,15.45,15.95]],[13.17,[12.85,13.35,14.85,15.45,15.85]],[13.27,[13.15,13.65,14.15,14.65,15.15,15.65]],
  [13.37,[13.25,13.75,14.25,14.75,15.25,15.75]],[13.47,[13.45,13.95,14.45,14.95,15.45,15.95]],
  [13.57,[13.15,13.65,14.15,14.65,15.15,15.65,16.15]],[13.67,[13.35,13.85,14.35,14.85,15.35,15.85]],
  [13.77,[13.55,14.05,14.55,15.05,15.55,16.05]],[13.87,[13.75,14.25,14.75,15.25,15.75,16.35]]
];

const oneToOne = [0, 18];
const xTicks = { min: 0, max: 20, step: 5 };
const yTicks = { min: 0, max: 20, step: 2 };
const statLines = ['N = 4272', 'Bias = -0.1 ± 1.5 m·s{sup|-1}', 'RMSE = 1.5 m·s{sup|-1}', 'R = 0.92'];
const xName = 'ASCAT sea surface wind speed / m·s{sup|-1}';
const yName = 'SAR sea surface wind speed (CBS model) / m·s{sup|-1}';
const caption = '(a)';

const scatterData = [].concat(ptsFloor, ptsLow, ptsMid, ptsCore, ptsUpper, ptsHigh);
denseColumns.concat(denseColumnsB).forEach(([x, ys]) => ys.forEach((y) => scatterData.push([x, y])));

const FONT = '"Liberation Sans", Arial, sans-serif';
const TEXT = '#1a1a1a';
const rich = { sup: { fontSize: 12, fontFamily: FONT, verticalAlign: 'top', lineHeight: 12 } };

const chart = echarts.init(document.getElementById('chart'), null, { renderer: 'canvas' });

// shared axis styling
const axisCommon = {
  type: 'value',
  axisLine: { show: true, lineStyle: { color: '#808080', width: 1 } },
  axisTick: { show: true, inside: true, length: 5, lineStyle: { color: '#808080' } },
  splitLine: { show: false },
};

chart.setOption({
  animation: false,
  backgroundColor: '#fff',
  grid: { left: 61, right: 10, top: 13, bottom: 98 },
  xAxis: Object.assign({}, axisCommon, {
    min: xTicks.min, max: xTicks.max, interval: xTicks.step,
    axisLabel: { color: '#262626', fontSize: 16, fontFamily: FONT, margin: 11 },
  }),
  yAxis: Object.assign({}, axisCommon, {
    min: yTicks.min, max: yTicks.max, interval: yTicks.step,
    axisLabel: { color: '#262626', fontSize: 16, fontFamily: FONT, margin: 8 },
  }),
  series: [
    {
      // 1:1 reference line, drawn under the points
      type: 'line',
      data: [[oneToOne[0], oneToOne[0]], [oneToOne[1], oneToOne[1]]],
      symbol: 'none',
      silent: true,
      z: 1,
      lineStyle: { color: '#000', width: 2.2, type: [12, 8] },
    },
    {
      type: 'scatter',
      data: scatterData,
      symbol: 'circle',
      symbolSize: 3.3,
      itemStyle: { color: '#000' },
      silent: true,
      z: 2,
    },
  ],
  graphic: [
    ...statLines.map((t, i) => ({
      type: 'text', left: 108, top: 45 + i * 26.7,
      style: { text: t, fontSize: 19, fontFamily: FONT, fill: TEXT, rich: rich },
    })),
    {
      type: 'text', x: 316, y: 461,
      style: { text: xName, fontSize: 19, fontFamily: FONT, fill: TEXT, align: 'center', verticalAlign: 'middle', rich: rich },
    },
    {
      type: 'text', x: 19, y: 215, rotation: Math.PI / 2,
      style: { text: yName, fontSize: 19, fontFamily: FONT, fill: TEXT, align: 'center', verticalAlign: 'middle', rich: rich },
    },
    {
      type: 'text', x: 318, y: 497,
      style: { text: caption, fontSize: 17, fontFamily: '"Liberation Serif", "Times New Roman", serif', fill: TEXT, align: 'center', verticalAlign: 'middle' },
    },
  ],
});
</script>
</body>
</html>
